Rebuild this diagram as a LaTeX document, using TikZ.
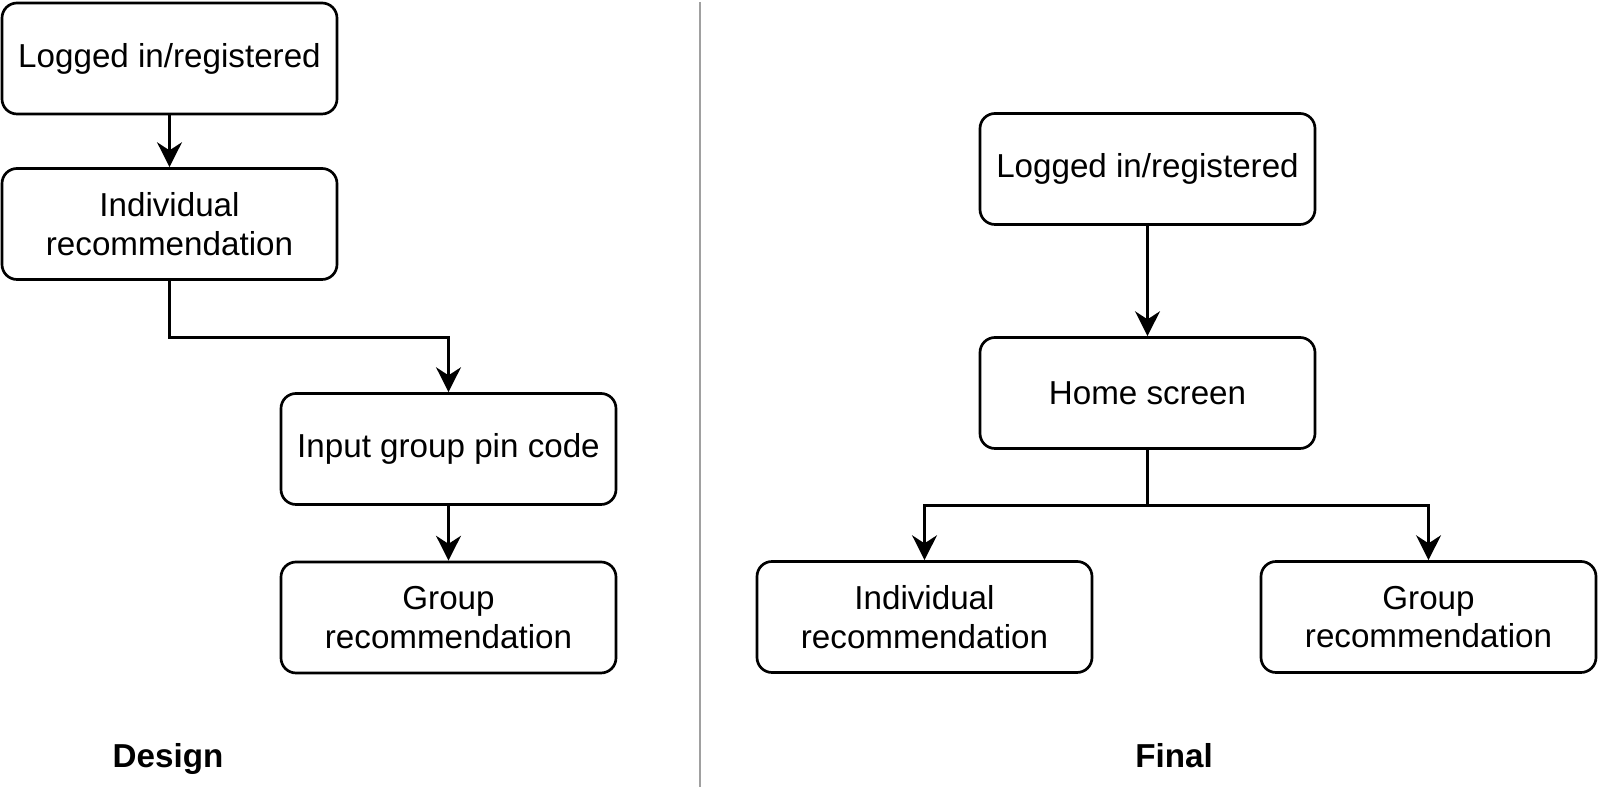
\documentclass[tikz,border=0pt]{standalone}
\usepackage{fontspec}
\setmainfont{Liberation Sans}
\usepackage{tikz}
\usetikzlibrary{arrows.meta}
\definecolor{divGray}{RGB}{160,160,160}

\begin{document}
\begin{tikzpicture}[
	box/.style={rectangle,draw,rounded corners=0.375cm,line width=1.9pt,minimum width=8.375cm,minimum height=2.775cm,align=center,font=\fontsize{23.6}{27.5}\selectfont},
	flow/.style={-{Stealth[length=0.62cm,width=0.62cm,inset=0.2cm]},line width=1.9pt},
	caption/.style={anchor=base,font=\fontsize{23.6}{27.5}\selectfont\bfseries}]
	\useasboundingbox (0,0) rectangle (40,19.725);

	% design
	\node[box] (loggedIn) at (4.2375,18.2625) {Logged in/registered};
	\node[box] (indivRec) at (4.2375,14.125) {Individual \\ recommendation};
	\node[box] (pinCode) at (11.2125,8.5) {Input group pin code};
	\node[box] (groupRec) at (11.2125,4.2875) {Group \\ recommendation};
	\node[caption] (design) at (4.2,0.525) {Design};

	% final
	\node[box] (loggedInF) at (28.6875,15.5) {Logged in/registered};
	\node[box] (homeScreen) at (28.6875,9.9) {Home screen};
	\node[box] (indivRecF) at (23.1125,4.3) {Individual \\ recommendation};
	\node[box] (groupRecF) at (35.7125,4.3) {Group \\ recommendation};
	\node[caption] (final) at (29.35,0.525) {Final};

	\coordinate (sepTop) at (17.5,19.675);
	\coordinate (sepBottom) at (17.5,0.05);
	\draw[divGray,line width=2.1pt](sepTop) -- (sepBottom);

\draw[flow](loggedIn) -- (indivRec);
\draw[flow](indivRec.south) -- ++(0,-1.425) -| (pinCode.north);
\draw[flow](pinCode) -- (groupRec);

\draw[flow](loggedInF) -- (homeScreen);
\draw[flow](homeScreen.south) -- ++(0,-1.4) -| (indivRecF.north);
\draw[flow](homeScreen.south) -- ++(0,-1.4) -| (groupRecF.north);

\end{tikzpicture}
\end{document}
